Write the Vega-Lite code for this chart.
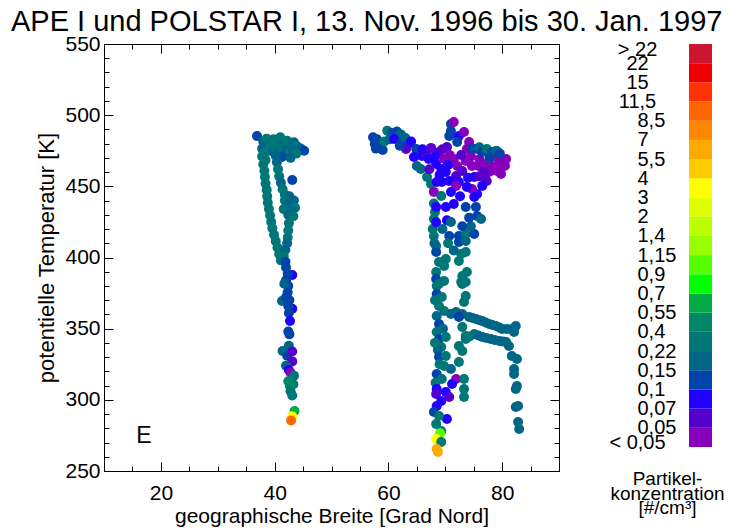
{
  "$schema": "https://vega.github.io/schema/vega-lite/v6.json",
  "background": "white",
  "padding": {"left": 10, "top": 8, "right": 5, "bottom": 5},
  "title": {"text": "APE I und POLSTAR I, 13. Nov. 1996 bis 30. Jan. 1997", "anchor": "start", "frame": "bounds", "dx": -25, "offset": -4, "font": "Liberation Sans", "fontSize": 29, "fontWeight": "normal", "color": "black"},
  "config": {
    "view": {"stroke": null},
    "axis": {"grid": false, "domainColor": "black", "tickColor": "black", "labelColor": "black", "titleColor": "black", "labelFont": "Liberation Sans", "titleFont": "Liberation Sans", "titleFontWeight": "normal", "domainWidth": 1, "tickWidth": 1}
  },
  "datasets": {
    "marke": [{"breite": 17, "theta": 274.5, "text": "E"}],
    "farbskala": [
      {"unten": 0, "oben": 1, "konz": 0.04}, {"unten": 1, "oben": 2, "konz": 0.06}, {"unten": 2, "oben": 3, "konz": 0.085},
      {"unten": 3, "oben": 4, "konz": 0.12}, {"unten": 4, "oben": 5, "konz": 0.18}, {"unten": 5, "oben": 6, "konz": 0.3},
      {"unten": 6, "oben": 7, "konz": 0.45}, {"unten": 7, "oben": 8, "konz": 0.6}, {"unten": 8, "oben": 9, "konz": 0.8},
      {"unten": 9, "oben": 10, "konz": 1.0}, {"unten": 10, "oben": 11, "konz": 1.3}, {"unten": 11, "oben": 12, "konz": 1.7},
      {"unten": 12, "oben": 13, "konz": 2.5}, {"unten": 13, "oben": 14, "konz": 3.5}, {"unten": 14, "oben": 15, "konz": 4.7},
      {"unten": 15, "oben": 16, "konz": 6}, {"unten": 16, "oben": 17, "konz": 7.7}, {"unten": 17, "oben": 18, "konz": 10},
      {"unten": 18, "oben": 19, "konz": 13}, {"unten": 19, "oben": 20, "konz": 18}, {"unten": 20, "oben": 21, "konz": 30}
    ],
    "messungen": [
      {"breite":36.9,"theta":485.4,"konz":0.12},{"breite":38.0,"theta":481.5,"konz":0.18},{"breite":38.6,"theta":483.5,"konz":0.3},
      {"breite":39.2,"theta":480.5,"konz":0.18},{"breite":39.8,"theta":483,"konz":0.3},{"breite":40.4,"theta":481,"konz":0.3},
      {"breite":41.0,"theta":484.5,"konz":0.3},{"breite":41.6,"theta":480,"konz":0.18},{"breite":42.2,"theta":482,"konz":0.3},
      {"breite":42.8,"theta":479,"konz":0.3},{"breite":43.4,"theta":481,"konz":0.18},{"breite":44.0,"theta":478,"konz":0.3},
      {"breite":44.6,"theta":476.5,"konz":0.18},{"breite":45.2,"theta":475,"konz":0.12},{"breite":37.8,"theta":476.5,"konz":0.18},
      {"breite":38.4,"theta":474,"konz":0.3},{"breite":39.0,"theta":476.5,"konz":0.3},{"breite":39.6,"theta":474.5,"konz":0.18},
      {"breite":40.2,"theta":477,"konz":0.3},{"breite":40.8,"theta":475,"konz":0.18},{"breite":41.4,"theta":477,"konz":0.3},
      {"breite":42.0,"theta":475.5,"konz":0.18},{"breite":42.6,"theta":473.5,"konz":0.3},{"breite":43.2,"theta":475.5,"konz":0.18},
      {"breite":43.8,"theta":473,"konz":0.3},{"breite":37.8,"theta":471,"konz":0.3},{"breite":38.4,"theta":468.5,"konz":0.3},
      {"breite":41.3,"theta":470.6,"konz":0.12},{"breite":40.2,"theta":471.5,"konz":0.18},{"breite":42.8,"theta":470,"konz":0.18},
      {"breite":38.0,"theta":465.5,"konz":0.3},{"breite":38.2,"theta":461,"konz":0.3},{"breite":38.3,"theta":456.5,"konz":0.3},
      {"breite":38.4,"theta":452,"konz":0.3},{"breite":38.6,"theta":447.5,"konz":0.3},{"breite":38.7,"theta":443,"konz":0.3},
      {"breite":38.8,"theta":438.5,"konz":0.3},{"breite":39.0,"theta":434,"konz":0.3},{"breite":39.2,"theta":429.5,"konz":0.3},
      {"breite":39.4,"theta":425,"konz":0.3},{"breite":39.6,"theta":420.5,"konz":0.3},{"breite":39.9,"theta":416,"konz":0.3},
      {"breite":40.2,"theta":411.5,"konz":0.3},{"breite":40.5,"theta":407,"konz":0.3},{"breite":40.8,"theta":402.5,"konz":0.3},
      {"breite":41.1,"theta":398,"konz":0.3},
      {"breite":40.4,"theta":467,"konz":0.18},{"breite":40.6,"theta":462,"konz":0.3},{"breite":40.8,"theta":457,"konz":0.3},
      {"breite":41.1,"theta":452.5,"konz":0.18},{"breite":43.1,"theta":454.5,"konz":0.12},{"breite":41.4,"theta":448,"konz":0.3},
      {"breite":41.8,"theta":444,"konz":0.3},{"breite":42.6,"theta":443,"konz":0.18},{"breite":43.4,"theta":440,"konz":0.18},
      {"breite":41.8,"theta":440,"konz":0.3},{"breite":42.2,"theta":437,"konz":0.18},{"breite":43.6,"theta":435,"konz":0.3},
      {"breite":43.0,"theta":433,"konz":0.18},{"breite":41.6,"theta":434,"konz":0.3},{"breite":42.4,"theta":430,"konz":0.18},
      {"breite":43.3,"theta":429,"konz":0.3},{"breite":42.5,"theta":424,"konz":0.3},{"breite":42.4,"theta":419,"konz":0.3},
      {"breite":42.3,"theta":414,"konz":0.3},{"breite":42.2,"theta":410,"konz":0.18},{"breite":41.9,"theta":405.5,"konz":0.18},
      {"breite":41.6,"theta":401,"konz":0.3},{"breite":41.9,"theta":397,"konz":0.12},{"breite":42.0,"theta":393,"konz":0.12},
      {"breite":43.1,"theta":387.7,"konz":0.085},
      {"breite":42.3,"theta":388.5,"konz":0.12},{"breite":42.0,"theta":384,"konz":0.12},{"breite":42.4,"theta":380,"konz":0.12},
      {"breite":41.7,"theta":381.5,"konz":0.18},{"breite":42.3,"theta":375.5,"konz":0.12},{"breite":41.3,"theta":369.4,"konz":0.18},
      {"breite":42.0,"theta":372,"konz":0.12},{"breite":42.6,"theta":370,"konz":0.12},{"breite":43.1,"theta":364,"konz":0.085},
      {"breite":42.4,"theta":366,"konz":0.12},{"breite":42.5,"theta":361,"konz":0.12},{"breite":42.7,"theta":355.4,"konz":0.085},
      {"breite":42.4,"theta":348,"konz":0.12},{"breite":42.6,"theta":346,"konz":0.12},{"breite":42.5,"theta":338,"konz":0.18},
      {"breite":41.4,"theta":334.3,"konz":0.18},{"breite":42.2,"theta":331,"konz":0.12},{"breite":43.1,"theta":334,"konz":0.06},
      {"breite":43.1,"theta":327,"konz":0.06},{"breite":42.0,"theta":324,"konz":0.18},{"breite":42.5,"theta":321,"konz":0.085},
      {"breite":42.8,"theta":319,"konz":0.04},{"breite":43.4,"theta":317,"konz":0.3},{"breite":42.4,"theta":313,"konz":0.45},
      {"breite":43.3,"theta":311,"konz":0.3},{"breite":42.7,"theta":309.5,"konz":0.45},{"breite":42.8,"theta":306,"konz":0.3},
      {"breite":43.1,"theta":303,"konz":0.3},{"breite":43.5,"theta":292.2,"konz":0.6},{"breite":43.1,"theta":288.5,"konz":3.5},
      {"breite":42.9,"theta":285.5,"konz":9},
      {"breite":57.3,"theta":484.5,"konz":0.12},{"breite":57.6,"theta":480,"konz":0.12},{"breite":58.0,"theta":483,"konz":0.12},
      {"breite":57.8,"theta":476.5,"konz":0.12},{"breite":58.6,"theta":478.5,"konz":0.12},{"breite":59.0,"theta":475.5,"konz":0.12},
      {"breite":59.3,"theta":481.5,"konz":0.3},{"breite":59.8,"theta":489,"konz":0.3},{"breite":60.6,"theta":487.5,"konz":0.12},
      {"breite":61.5,"theta":488.5,"konz":0.12},{"breite":62.2,"theta":486.5,"konz":0.18},{"breite":60.2,"theta":483,"konz":0.18},
      {"breite":61.0,"theta":483.3,"konz":0.085},{"breite":62.4,"theta":481,"konz":0.12},{"breite":63.0,"theta":484,"konz":0.18},
      {"breite":63.6,"theta":480,"konz":0.12},{"breite":64.0,"theta":481.5,"konz":0.085},{"breite":64.9,"theta":476.2,"konz":0.12},
      {"breite":64.5,"theta":470.6,"konz":0.085},{"breite":63.1,"theta":476.2,"konz":0.06},{"breite":65.0,"theta":464.3,"konz":0.18},
      {"breite":65.7,"theta":462.2,"konz":0.18},{"breite":62.0,"theta":478.5,"konz":0.12},
      {"breite":68.0,"theta":438,"konz":0.3},{"breite":68.2,"theta":432,"konz":0.3},{"breite":68.0,"theta":427.1,"konz":0.3},
      {"breite":67.8,"theta":420,"konz":0.3},{"breite":68.4,"theta":424.7,"konz":0.085},{"breite":70.3,"theta":426.1,"konz":0.085},
      {"breite":70.7,"theta":415.1,"konz":0.12},{"breite":72.4,"theta":415.1,"konz":0.12},{"breite":73.6,"theta":416.5,"konz":0.3},
      {"breite":75.1,"theta":416.5,"konz":0.12},{"breite":75.6,"theta":429.2,"konz":0.12},{"breite":76.3,"theta":427.1,"konz":0.18},
      {"breite":72.4,"theta":410.9,"konz":0.12},{"breite":73.6,"theta":411.6,"konz":0.18},{"breite":73.6,"theta":403.9,"konz":0.3},
      {"breite":73.8,"theta":389.8,"konz":0.3},{"breite":73.6,"theta":382.8,"konz":0.3},{"breite":68.0,"theta":415.1,"konz":0.3},
      {"breite":68.4,"theta":408.1,"konz":0.3},{"breite":68.4,"theta":403.9,"konz":0.12},{"breite":68.9,"theta":396.8,"konz":0.3},
      {"breite":70.1,"theta":399.0,"konz":0.3},{"breite":69.8,"theta":394.0,"konz":0.3},{"breite":68.4,"theta":389.8,"konz":0.3},
      {"breite":68.4,"theta":384.9,"konz":0.12},{"breite":68.9,"theta":381.4,"konz":0.3},{"breite":69.8,"theta":383.5,"konz":0.3},
      {"breite":72.8,"theta":402.5,"konz":0.3},{"breite":72.4,"theta":397.5,"konz":0.3},{"breite":73.0,"theta":387.0,"konz":0.3},
      {"breite":72.8,"theta":382.8,"konz":0.3},{"breite":68.1,"theta":410,"konz":0.18},{"breite":69.5,"theta":420,"konz":0.18},
      {"breite":71.0,"theta":425,"konz":0.18},{"breite":74.5,"theta":422,"konz":0.18},{"breite":71.5,"theta":405,"konz":0.18},
      {"breite":70.5,"theta":410,"konz":0.3},{"breite":74.2,"theta":428,"konz":0.12},{"breite":73.0,"theta":422,"konz":0.12},
      {"breite":68.5,"theta":380.0,"konz":0.3},{"breite":68.5,"theta":374.4,"konz":0.12},{"breite":69.4,"theta":372.3,"konz":0.3},
      {"breite":68.2,"theta":370,"konz":0.3},{"breite":68.9,"theta":365.9,"konz":0.3},{"breite":69.8,"theta":362.4,"konz":0.3},
      {"breite":68.5,"theta":358.9,"konz":0.18},{"breite":68.9,"theta":353.3,"konz":0.12},{"breite":69.6,"theta":350,"konz":0.18},
      {"breite":68.5,"theta":347.7,"konz":0.3},{"breite":68.9,"theta":342.7,"konz":0.12},{"breite":68.2,"theta":340,"konz":0.3},
      {"breite":69.3,"theta":337.1,"konz":0.3},{"breite":70.1,"theta":344.1,"konz":0.3},{"breite":68.7,"theta":335,"konz":0.18},
      {"breite":68.9,"theta":330.1,"konz":0.12},{"breite":70.1,"theta":330.8,"konz":0.3},{"breite":69.0,"theta":325,"konz":0.3},
      {"breite":69.8,"theta":323.8,"konz":0.3},{"breite":68.5,"theta":318.2,"konz":0.12},{"breite":69.4,"theta":314.6,"konz":0.3},
      {"breite":68.3,"theta":312,"konz":0.3},{"breite":68.5,"theta":307.6,"konz":0.085},{"breite":68.4,"theta":304.1,"konz":0.06},
      {"breite":70.1,"theta":305.5,"konz":0.085},{"breite":70.7,"theta":302.0,"konz":0.06},{"breite":69.3,"theta":299.2,"konz":0.085},
      {"breite":68.5,"theta":295.7,"konz":0.085},{"breite":68.0,"theta":291.5,"konz":0.12},{"breite":70.3,"theta":286.5,"konz":0.085},
      {"breite":68.9,"theta":288.6,"konz":0.3},{"breite":68.4,"theta":283.0,"konz":0.3},{"breite":69.3,"theta":278.1,"konz":0.3},
      {"breite":69.1,"theta":276.5,"konz":1.0},{"breite":68.4,"theta":272.5,"konz":3.5},{"breite":69.3,"theta":270.4,"konz":0.3},
      {"breite":68.5,"theta":265.5,"konz":6},{"breite":68.7,"theta":263.3,"konz":6},
      {"breite":73.0,"theta":381.4,"konz":0.3},{"breite":73.6,"theta":373.0,"konz":0.3},{"breite":73.3,"theta":368.7,"konz":0.3},
      {"breite":71.9,"theta":314.6,"konz":0.04},{"breite":71.2,"theta":311.1,"konz":0.085},{"breite":71.0,"theta":321.7,"konz":0.18},
      {"breite":72.4,"theta":326.6,"konz":0.3},{"breite":73.3,"theta":314.6,"konz":0.3},{"breite":73.3,"theta":307.6,"konz":0.3},
      {"breite":73.3,"theta":302.0,"konz":0.3},{"breite":72.4,"theta":337.8,"konz":0.3},{"breite":73.0,"theta":334.3,"konz":0.3},
      {"breite":73.6,"theta":344.8,"konz":0.3},{"breite":73.0,"theta":351.2,"konz":0.3},
      {"breite":71.0,"theta":360.3,"konz":0.18},{"breite":71.9,"theta":361.7,"konz":0.18},{"breite":73.0,"theta":360.3,"konz":0.18},
      {"breite":72.4,"theta":358.2,"konz":0.12},{"breite":74.2,"theta":358.2,"konz":0.18},{"breite":74.8,"theta":357.5,"konz":0.18},
      {"breite":75.4,"theta":356.8,"konz":0.18},{"breite":76.0,"theta":356,"konz":0.18},{"breite":76.5,"theta":355.4,"konz":0.18},
      {"breite":77.1,"theta":354.3,"konz":0.18},{"breite":77.7,"theta":353.3,"konz":0.18},{"breite":78.3,"theta":352.6,"konz":0.18},
      {"breite":78.9,"theta":351.9,"konz":0.18},{"breite":79.5,"theta":350.8,"konz":0.18},{"breite":80.0,"theta":349.8,"konz":0.18},
      {"breite":80.8,"theta":349.8,"konz":0.18},{"breite":81.7,"theta":349.8,"konz":0.18},{"breite":82.4,"theta":351.9,"konz":0.18},
      {"breite":82.1,"theta":347.7,"konz":0.18},{"breite":73.6,"theta":342.7,"konz":0.3},{"breite":74.3,"theta":344.5,"konz":0.3},
      {"breite":75.1,"theta":346.3,"konz":0.3},{"breite":75.8,"theta":345.2,"konz":0.18},{"breite":76.5,"theta":344.1,"konz":0.18},
      {"breite":77.2,"theta":343.4,"konz":0.18},{"breite":78.0,"theta":342.7,"konz":0.18},{"breite":78.7,"theta":342,"konz":0.18},
      {"breite":79.5,"theta":341.3,"konz":0.18},{"breite":80.1,"theta":341,"konz":0.18},{"breite":80.7,"theta":340.6,"konz":0.18},
      {"breite":81.2,"theta":337.8,"konz":0.18},
      {"breite":81.7,"theta":330.8,"konz":0.18},{"breite":82.6,"theta":328.7,"konz":0.18},{"breite":82.1,"theta":321.7,"konz":0.18},
      {"breite":82.1,"theta":318.2,"konz":0.18},{"breite":82.6,"theta":309.7,"konz":0.18},{"breite":82.4,"theta":307.6,"konz":0.18},
      {"breite":82.8,"theta":295.7,"konz":0.18},{"breite":82.4,"theta":295.0,"konz":0.18},{"breite":82.8,"theta":284.4,"konz":0.18},
      {"breite":83.0,"theta":279.5,"konz":0.18},
      {"breite":65.9,"theta":471.3,"konz":0.085},{"breite":66.6,"theta":472.7,"konz":0.06},{"breite":67.1,"theta":469.2,"konz":0.085},
      {"breite":66.8,"theta":456.6,"konz":0.3},{"breite":67.5,"theta":451.7,"konz":0.3},{"breite":68.0,"theta":446.1,"konz":0.04},
      {"breite":68.4,"theta":465.7,"konz":0.085},{"breite":68.9,"theta":474.1,"konz":0.06},{"breite":69.3,"theta":462.2,"konz":0.085},
      {"breite":69.8,"theta":469.2,"konz":0.04},{"breite":70.1,"theta":460.1,"konz":0.085},{"breite":70.3,"theta":477.6,"konz":0.06},
      {"breite":71.0,"theta":493.8,"konz":0.12},{"breite":71.0,"theta":488.9,"konz":0.12},{"breite":70.7,"theta":485.4,"konz":0.12},
      {"breite":71.5,"theta":495.2,"konz":0.04},{"breite":72.4,"theta":485.4,"konz":0.085},{"breite":73.3,"theta":488.2,"konz":0.04},
      {"breite":72.1,"theta":481.1,"konz":0.12},{"breite":71.5,"theta":469.2,"konz":0.04},{"breite":72.1,"theta":464.3,"konz":0.04},
      {"breite":71.9,"theta":457.3,"konz":0.06},{"breite":72.4,"theta":453.1,"konz":0.085},{"breite":73.0,"theta":460.8,"konz":0.06},
      {"breite":73.6,"theta":467.8,"konz":0.04},{"breite":73.8,"theta":476.2,"konz":0.04},{"breite":74.2,"theta":481.1,"konz":0.04},
      {"breite":74.7,"theta":464.3,"konz":0.04},{"breite":75.1,"theta":456.6,"konz":0.085},
      {"breite":77.2,"theta":465.7,"konz":0.04},{"breite":75.9,"theta":464.3,"konz":0.04},{"breite":77.7,"theta":460.1,"konz":0.04},
      {"breite":79.5,"theta":467.1,"konz":0.04},{"breite":80.0,"theta":463.6,"konz":0.04},{"breite":79.8,"theta":458.7,"konz":0.04},
      {"breite":78.9,"theta":470.6,"konz":0.04},{"breite":80.7,"theta":469.2,"konz":0.04},{"breite":77.3,"theta":453.8,"konz":0.06},
      {"breite":76.5,"theta":450.3,"konz":0.085},{"breite":75.6,"theta":444.6,"konz":0.085},{"breite":74.7,"theta":448.1,"konz":0.04},
      {"breite":73.8,"theta":449.6,"konz":0.085},{"breite":70.7,"theta":453.8,"konz":0.085},{"breite":69.4,"theta":453.1,"konz":0.085},
      {"breite":68.5,"theta":453.1,"konz":0.085},{"breite":69.3,"theta":443.2,"konz":0.3},{"breite":71.9,"theta":450.3,"konz":0.04},
      {"breite":68.4,"theta":435.5,"konz":0.085},{"breite":70.1,"theta":435.5,"konz":0.085},{"breite":71.5,"theta":437.6,"konz":0.085},
      {"breite":73.6,"theta":435.5,"konz":0.12},{"breite":75.4,"theta":435.5,"konz":0.12},{"breite":75.1,"theta":442.5,"konz":0.085},
      {"breite":66.0,"theta":476,"konz":0.085},{"breite":67.5,"theta":477,"konz":0.06},{"breite":68.2,"theta":471,"konz":0.085},
      {"breite":69.5,"theta":476,"konz":0.06},{"breite":70.8,"theta":472,"konz":0.04},{"breite":72.8,"theta":472,"konz":0.06},
      {"breite":74.5,"theta":471,"konz":0.04},{"breite":76.0,"theta":469,"konz":0.04},{"breite":76.8,"theta":460,"konz":0.06},
      {"breite":78.4,"theta":464,"konz":0.04},{"breite":79.0,"theta":461,"konz":0.04},{"breite":80.5,"theta":464.5,"konz":0.04},
      {"breite":76.0,"theta":457,"konz":0.06},{"breite":74.0,"theta":456,"konz":0.085},{"breite":70.5,"theta":465,"konz":0.085},
      {"breite":69.0,"theta":458,"konz":0.085},{"breite":67.2,"theta":462,"konz":0.06},{"breite":71.0,"theta":446,"konz":0.085},
      {"breite":72.6,"theta":443,"konz":0.085},
      {"breite":74.8,"theta":476.5,"konz":0.12},{"breite":75.6,"theta":476.2,"konz":0.12},{"breite":76.0,"theta":477.5,"konz":0.18},
      {"breite":76.5,"theta":474.1,"konz":0.12},{"breite":77.3,"theta":476.2,"konz":0.3},{"breite":78.2,"theta":474.1,"konz":0.12},
      {"breite":79.0,"theta":475,"konz":0.18},{"breite":79.6,"theta":473,"konz":0.12},{"breite":77.8,"theta":470,"konz":0.12}
    ]
  },
  "hconcat": [
    {
      "width": 455,
      "height": 427,
      "resolve": {"axis": {"x": "independent", "y": "independent"}},
      "layer": [
        {
          "data": {"name": "messungen"},
          "mark": {"type": "circle", "size": 100, "opacity": 1},
          "encoding": {
            "x": {"field": "breite", "type": "quantitative", "scale": {"domain": [10, 90], "nice": false, "zero": false},
              "axis": {"orient": "bottom", "values": [20, 40, 60, 80], "tickSize": -9, "labelPadding": 20, "labelFontSize": 21, "labelFlush": false, "title": "geographische Breite [Grad Nord]", "titleFontSize": 21, "titlePadding": 2}},
            "y": {"field": "theta", "type": "quantitative", "scale": {"domain": [250, 550], "nice": false, "zero": false},
              "axis": {"orient": "left", "values": [250, 300, 350, 400, 450, 500, 550], "tickSize": -9, "labelPadding": 13, "labelFontSize": 21, "labelFlush": false, "title": "potentielle Temperatur [K]", "titleFontSize": 22, "titlePadding": 6}},
            "color": {"field": "konz", "type": "quantitative", "legend": null,
              "scale": {"type": "threshold", "domain": [0.05, 0.07, 0.1, 0.15, 0.22, 0.4, 0.55, 0.7, 0.9, 1.15, 1.4, 2, 3, 4, 5.5, 7, 8.5, 11.5, 15, 22],
                "range": ["#8800bb", "#5500cc", "#2200ff", "#0044aa", "#006688", "#007777", "#008866", "#00aa44", "#00ff00", "#55ff00", "#99ff00", "#bbff00", "#ddff00", "#ffff00", "#ffcc00", "#ffaa00", "#ff8800", "#ff6600", "#ff3300", "#ee0000", "#cc1530"]}}
          }
        },
        {
          "data": {"name": "marke"},
          "mark": {"type": "text", "font": "Liberation Sans", "fontSize": 23, "color": "black", "baseline": "middle", "align": "center"},
          "encoding": {
            "x": {"field": "breite", "type": "quantitative", "scale": {"domain": [10, 90], "nice": false, "zero": false},
              "axis": {"orient": "bottom", "values": [10, 15, 20, 25, 30, 35, 40, 45, 50, 55, 60, 65, 70, 75, 80, 85, 90], "tickSize": -5, "labels": false, "title": null, "domain": false}},
            "y": {"field": "theta", "type": "quantitative", "scale": {"domain": [250, 550], "nice": false, "zero": false},
              "axis": {"orient": "left", "values": [250, 260, 270, 280, 290, 300, 310, 320, 330, 340, 350, 360, 370, 380, 390, 400, 410, 420, 430, 440, 450, 460, 470, 480, 490, 500, 510, 520, 530, 540, 550], "tickSize": -5, "labels": false, "title": null, "domain": false}},
            "text": {"field": "text"}
          }
        },
        {
          "data": {"name": "marke"},
          "mark": {"type": "point", "opacity": 0},
          "encoding": {
            "x": {"field": "breite", "type": "quantitative", "scale": {"domain": [10, 90], "nice": false, "zero": false},
              "axis": {"orient": "top", "values": [20, 40, 60, 80], "tickSize": -9, "labels": false, "title": null, "domain": true}},
            "y": {"field": "theta", "type": "quantitative", "scale": {"domain": [250, 550], "nice": false, "zero": false},
              "axis": {"orient": "right", "values": [250, 300, 350, 400, 450, 500, 550], "tickSize": -9, "labels": false, "title": null, "domain": true}}
          }
        },
        {
          "data": {"name": "marke"},
          "mark": {"type": "point", "opacity": 0},
          "encoding": {
            "x": {"field": "breite", "type": "quantitative", "scale": {"domain": [10, 90], "nice": false, "zero": false},
              "axis": {"orient": "top", "values": [10, 15, 20, 25, 30, 35, 40, 45, 50, 55, 60, 65, 70, 75, 80, 85, 90], "tickSize": -5, "labels": false, "title": null, "domain": false}},
            "y": {"field": "theta", "type": "quantitative", "scale": {"domain": [250, 550], "nice": false, "zero": false},
              "axis": {"orient": "right", "values": [250, 260, 270, 280, 290, 300, 310, 320, 330, 340, 350, 360, 370, 380, 390, 400, 410, 420, 430, 440, 450, 460, 470, 480, 490, 500, 510, 520, 530, 540, 550], "tickSize": -5, "labels": false, "title": null, "domain": false}}
          }
        }
      ]
    },
    {
      "width": 23,
      "height": 403,
      "data": {"name": "farbskala"},
      "title": {"text": ["Partikel-", "konzentration", "[#/cm³]"], "orient": "bottom", "anchor": "middle", "font": "Liberation Sans", "fontSize": 19, "fontWeight": "normal", "color": "black", "lineHeight": 14.5, "dx": -33, "offset": 18},
      "mark": {"type": "rect"},
      "encoding": {
        "y": {"field": "unten", "type": "quantitative", "scale": {"domain": [0, 21], "nice": false, "zero": false},
          "axis": {"orient": "left", "values": [0, 1, 2, 3, 4, 5, 6, 7, 8, 9, 10, 11, 12, 13, 14, 15, 16, 17, 18, 19, 20, 21],
            "labelExpr": "['< 0,05','0,05','0,07','0,1','0,15','0,22','0,4','0,55','0,7','0,9','1,15','1,4','2','3','4','5,5','7','8,5','11,5','15','22','> 22'][datum.value]",
            "ticks": false, "tickSize": 0, "domain": false, "labelPadding": 52, "labelFontSize": 20, "labelFlush": true, "labelFlushOffset": 5, "labelOverlap": false,
            "labelAlign": {"condition": {"test": "datum.value == 0 || datum.value >= 18", "value": "center"}, "value": "left"},
            "title": null}},
        "y2": {"field": "oben"},
        "color": {"field": "konz", "type": "quantitative", "legend": null,
          "scale": {"type": "threshold", "domain": [0.05, 0.07, 0.1, 0.15, 0.22, 0.4, 0.55, 0.7, 0.9, 1.15, 1.4, 2, 3, 4, 5.5, 7, 8.5, 11.5, 15, 22],
            "range": ["#8800bb", "#5500cc", "#2200ff", "#0044aa", "#006688", "#007777", "#008866", "#00aa44", "#00ff00", "#55ff00", "#99ff00", "#bbff00", "#ddff00", "#ffff00", "#ffcc00", "#ffaa00", "#ff8800", "#ff6600", "#ff3300", "#ee0000", "#cc1530"]}}
      }
    }
  ],
  "spacing": 48
}
